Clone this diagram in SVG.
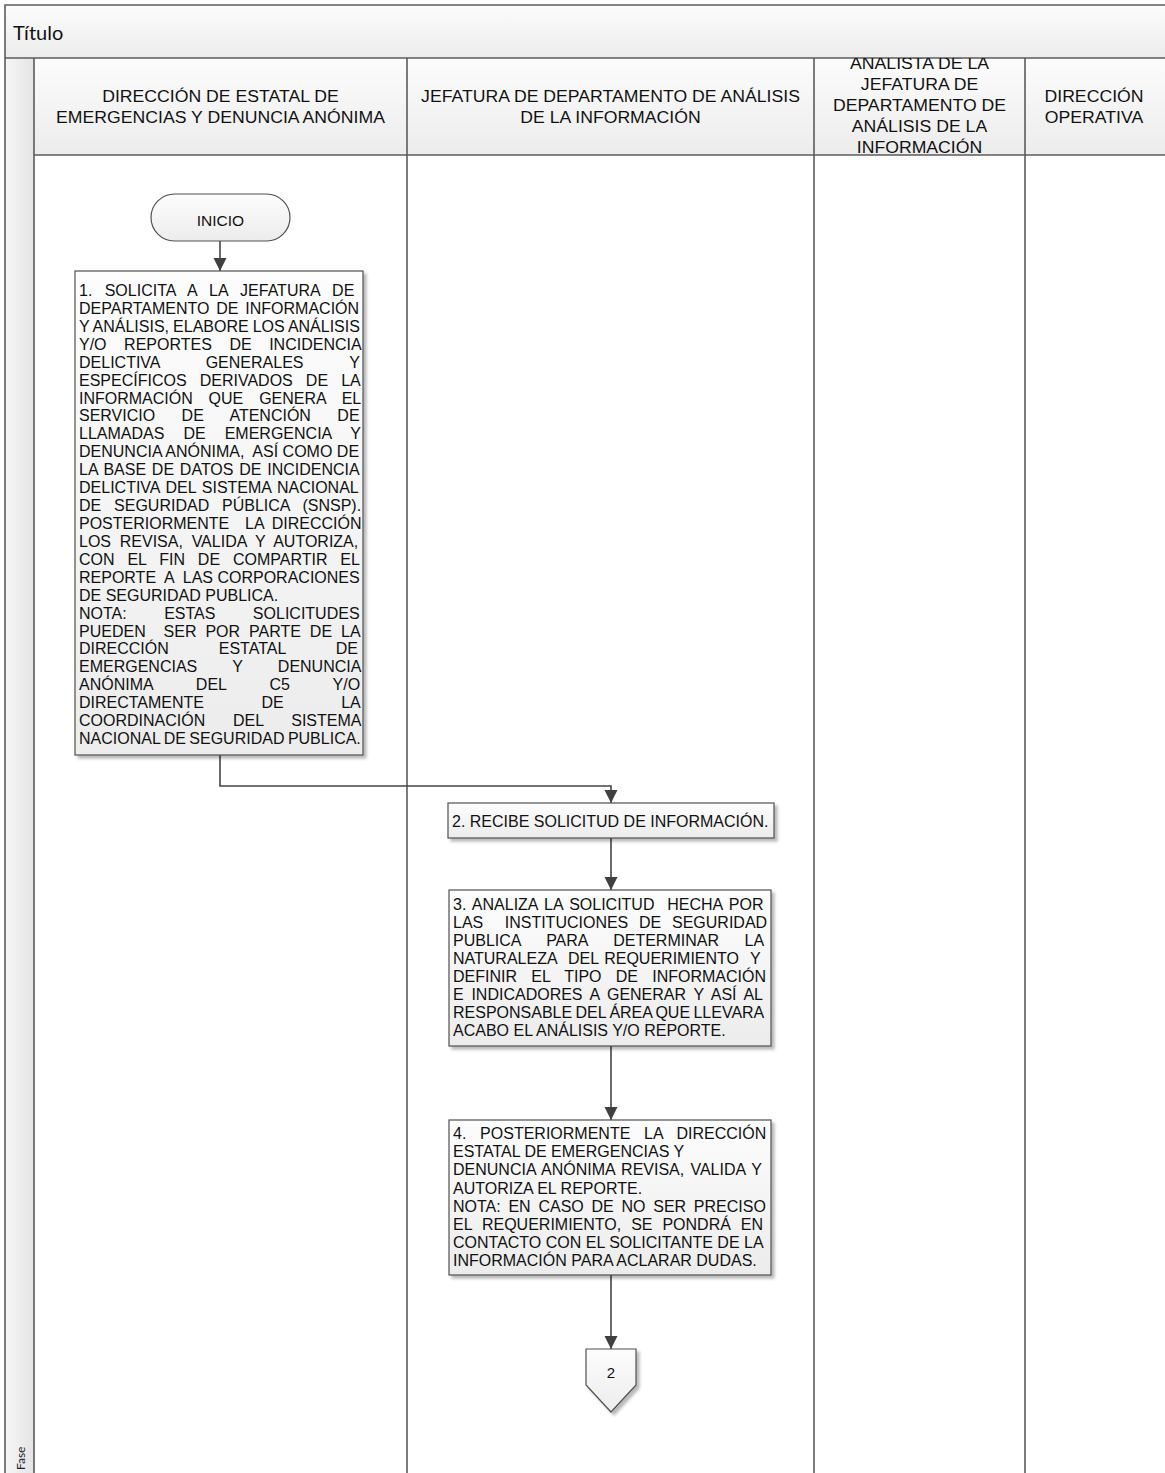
<svg xmlns="http://www.w3.org/2000/svg" width="1165" height="1473" viewBox="0 0 1165 1473" xml:space="preserve">
<defs>
<style>
.frame{fill:none;stroke:#5c5c5c;stroke-width:1.6}
.hdr{font-family:"Liberation Sans",Arial,sans-serif;font-size:16.5px;fill:#111;text-anchor:middle}
.t{font-family:"Liberation Sans",Arial,sans-serif;font-size:16px;fill:#111;white-space:pre}
.box{fill:url(#boxFill);stroke:#505050;stroke-width:1.2}
.conn{fill:none;stroke:#454545;stroke-width:1.6}
</style>
<linearGradient id="barFill" x1="0" y1="0" x2="0" y2="1">
<stop offset="0" stop-color="#fcfcfc"/><stop offset="1" stop-color="#ececec"/>
</linearGradient>
<linearGradient id="faseFill" x1="0" y1="0" x2="1" y2="0">
<stop offset="0" stop-color="#f6f6f6"/><stop offset="1" stop-color="#e4e4e4"/>
</linearGradient>
<linearGradient id="boxFill" x1="0" y1="0" x2="0" y2="1">
<stop offset="0" stop-color="#fdfdfd"/><stop offset="1" stop-color="#ececec"/>
</linearGradient>
<filter id="shadow" x="-10%" y="-10%" width="130%" height="130%">
<feDropShadow dx="3" dy="3" stdDeviation="1.8" flood-color="#000" flood-opacity="0.28"/>
</filter>
<clipPath id="hdrClip"><rect x="34" y="58" width="1131" height="97"/></clipPath>
<marker id="arrow" markerUnits="userSpaceOnUse" markerWidth="14" markerHeight="14" refX="13" refY="6.5" orient="auto">
<path d="M0,0 L13,6.5 L0,13 Z" fill="#404040"/>
</marker>
</defs>

<!-- page background and swimlane frame -->
<rect x="0" y="0" width="1165" height="1473" fill="#ffffff"/>
<rect x="5" y="5" width="1165" height="53" fill="url(#barFill)"/>
<rect x="34" y="58" width="1131" height="97" fill="url(#barFill)"/>
<rect x="5" y="58" width="29" height="1415" fill="url(#faseFill)"/>
<path class="frame" d="M5,1473 V5 H1165 M5,58 H1165 M34,155 H1165 M34,58 V1473 M407,58 V1473 M814,58 V1473 M1025,58 V1473"/>

<text x="13" y="40" style="font-family:Lato,'Open Sans',sans-serif;font-size:20px;fill:#111">Título</text>
<text transform="translate(25,1470) rotate(-90)" style="font-family:Lato,'Open Sans',sans-serif;font-size:12px;fill:#222">Fase</text>

<!-- lane headers -->
<g id="lane-headers" clip-path="url(#hdrClip)">
<g id="lane1-header">
<text class="hdr" transform="translate(220.5,102) scale(1.07,1)">DIRECCIÓN DE ESTATAL DE</text>
<text class="hdr" transform="translate(220.5,122.5) scale(1.07,1)">EMERGENCIAS Y DENUNCIA ANÓNIMA</text>
</g>
<g id="lane2-header">
<text class="hdr" transform="translate(610.5,102) scale(1.07,1)">JEFATURA DE DEPARTAMENTO DE ANÁLISIS</text>
<text class="hdr" transform="translate(610.5,122.5) scale(1.07,1)">DE LA INFORMACIÓN</text>
</g>
<g id="lane3-header">
<text class="hdr" transform="translate(919.5,69) scale(1.07,1)">ANALISTA DE LA</text>
<text class="hdr" transform="translate(919.5,90) scale(1.07,1)">JEFATURA DE</text>
<text class="hdr" transform="translate(919.5,111) scale(1.07,1)">DEPARTAMENTO DE</text>
<text class="hdr" transform="translate(919.5,132) scale(1.07,1)">ANÁLISIS DE LA</text>
<text class="hdr" transform="translate(919.5,153) scale(1.07,1)">INFORMACIÓN</text>
</g>
<g id="lane4-header">
<text class="hdr" transform="translate(1094,102) scale(1.07,1)">DIRECCIÓN</text>
<text class="hdr" transform="translate(1094,122.5) scale(1.07,1)">OPERATIVA</text>
</g>
</g>

<!-- connectors -->
<g id="connectors">
<path class="conn" d="M220,241 V271" marker-end="url(#arrow)"/>
<path class="conn" d="M220,755 V786 H611 V803" marker-end="url(#arrow)"/>
<path class="conn" d="M611,838 V890" marker-end="url(#arrow)"/>
<path class="conn" d="M611,1046 V1120" marker-end="url(#arrow)"/>
<path class="conn" d="M611,1275 V1349" marker-end="url(#arrow)"/>
</g>

<!-- start terminator -->
<g id="inicio">
<rect x="151" y="194" width="139" height="47" rx="23.5" ry="23.5" class="box"/>
<text x="220.5" y="226" style="font-family:'Liberation Sans',Arial,sans-serif;font-size:15.5px;fill:#111;text-anchor:middle">INICIO</text>
</g>

<!-- step 1 -->
<g id="step1">
<rect x="75" y="271" width="288" height="484" class="box" filter="url(#shadow)"/>
<text class="t" x="79" y="296" style="word-spacing:7.88px">1. SOLICITA A LA JEFATURA DE</text>
<text class="t" x="79" y="313.9" style="word-spacing:2.4px">DEPARTAMENTO DE INFORMACIÓN</text>
<text class="t" x="79" y="331.8" style="word-spacing:-0.4px">Y ANÁLISIS, ELABORE LOS ANÁLISIS</text>
<text class="t" x="79" y="349.8" style="word-spacing:13.1px">Y/O REPORTES DE INCIDENCIA</text>
<text class="t" x="79" y="367.7" style="word-spacing:41.6px">DELICTIVA GENERALES Y</text>
<text class="t" x="79" y="385.6" style="word-spacing:8.67px">ESPECÍFICOS DERIVADOS DE LA</text>
<text class="t" x="79" y="403.5" style="word-spacing:11.4px">INFORMACIÓN QUE GENERA EL</text>
<text class="t" x="79" y="421.4" style="word-spacing:22px">SERVICIO DE ATENCIÓN DE</text>
<text class="t" x="79" y="439.4" style="word-spacing:14.6px">LLAMADAS DE EMERGENCIA Y</text>
<text class="t" x="79" y="457.3">DENUNCIA ANÓNIMA,  ASÍ COMO DE</text>
<text class="t" x="79" y="475.2" style="word-spacing:1.3px">LA BASE DE DATOS DE INCIDENCIA</text>
<text class="t" x="79" y="493.1" style="word-spacing:1.37px">DELICTIVA DEL SISTEMA NACIONAL</text>
<text class="t" x="79" y="511" style="word-spacing:8.4px">DE SEGURIDAD PÚBLICA (SNSP).</text>
<text class="t" x="79" y="529" style="word-spacing:3.47px">POSTERIORMENTE  LA DIRECCIÓN</text>
<text class="t" x="79" y="546.9" style="word-spacing:4.3px">LOS REVISA, VALIDA Y AUTORIZA,</text>
<text class="t" x="79" y="564.8" style="word-spacing:8.4px">CON EL FIN DE COMPARTIR EL</text>
<text class="t" x="79" y="582.7">REPORTE  A  LAS CORPORACIONES</text>
<text class="t" x="79" y="600.6">DE SEGURIDAD PUBLICA.</text>
<text class="t" x="79" y="618.6" style="word-spacing:33px">NOTA: ESTAS SOLICITUDES</text>
<text class="t" x="79" y="636.5" style="word-spacing:4.5px">PUEDEN  SER POR PARTE DE LA</text>
<text class="t" x="79" y="654.4" style="word-spacing:45.5px">DIRECCIÓN ESTATAL DE</text>
<text class="t" x="79" y="672.3" style="word-spacing:30.8px">EMERGENCIAS Y DENUNCIA</text>
<text class="t" x="79" y="690.2" style="word-spacing:38.6px">ANÓNIMA DEL C5 Y/O</text>
<text class="t" x="79" y="708.2" style="word-spacing:53px">DIRECTAMENTE DE LA</text>
<text class="t" x="79" y="726.1" style="word-spacing:23.3px">COORDINACIÓN DEL SISTEMA</text>
<text class="t" x="79" y="744" style="word-spacing:-1px">NACIONAL DE SEGURIDAD PUBLICA.</text>
</g>

<!-- step 2 -->
<g id="step2">
<rect x="448" y="803" width="326" height="35" class="box" filter="url(#shadow)"/>
<text class="t" x="452" y="826.5">2. RECIBE SOLICITUD DE INFORMACIÓN.</text>
</g>

<!-- step 3 -->
<g id="step3">
<rect x="449" y="890" width="322" height="156" class="box" filter="url(#shadow)"/>
<text class="t" x="453" y="910" style="word-spacing:1.95px">3. ANALIZA LA SOLICITUD  HECHA POR</text>
<text class="t" x="453" y="928" style="word-spacing:6.3px">LAS  INSTITUCIONES DE SEGURIDAD</text>
<text class="t" x="453" y="946" style="word-spacing:21.1px">PUBLICA PARA DETERMINAR LA</text>
<text class="t" x="453" y="964" style="word-spacing:1.2px">NATURALEZA  DEL REQUERIMIENTO  Y</text>
<text class="t" x="453" y="982" style="word-spacing:9.8px">DEFINIR EL TIPO DE INFORMACIÓN</text>
<text class="t" x="453" y="1000" style="word-spacing:3.3px">E INDICADORES A GENERAR Y ASÍ AL</text>
<text class="t" x="453" y="1018" style="word-spacing:-1.1px">RESPONSABLE DEL ÁREA QUE LLEVARA</text>
<text class="t" x="453" y="1036">ACABO EL ANÁLISIS Y/O REPORTE.</text>
</g>

<!-- step 4 -->
<g id="step4">
<rect x="449" y="1120" width="322" height="155" class="box" filter="url(#shadow)"/>
<text class="t" x="453" y="1139" style="word-spacing:9.3px">4. POSTERIORMENTE LA DIRECCIÓN</text>
<text class="t" x="453" y="1157.2">ESTATAL DE EMERGENCIAS Y</text>
<text class="t" x="453" y="1175.4" style="word-spacing:1.8px">DENUNCIA ANÓNIMA REVISA, VALIDA Y</text>
<text class="t" x="453" y="1193.6">AUTORIZA EL REPORTE.</text>
<text class="t" x="453" y="1211.8" style="word-spacing:3.3px">NOTA: EN CASO DE NO SER PRECISO</text>
<text class="t" x="453" y="1230" style="word-spacing:5.5px">EL REQUERIMIENTO, SE PONDRÁ EN</text>
<text class="t" x="453" y="1248.2">CONTACTO CON EL SOLICITANTE DE LA</text>
<text class="t" x="453" y="1266.4">INFORMACIÓN PARA ACLARAR DUDAS.</text>
</g>

<!-- off-page reference -->
<g id="offpage-2">
<path d="M586,1349 H636 V1385 L611,1412 L586,1385 Z" class="box" filter="url(#shadow)"/>
<text x="611" y="1378" style="font-family:'Liberation Sans',Arial,sans-serif;font-size:15px;fill:#111;text-anchor:middle">2</text>
</g>
</svg>
